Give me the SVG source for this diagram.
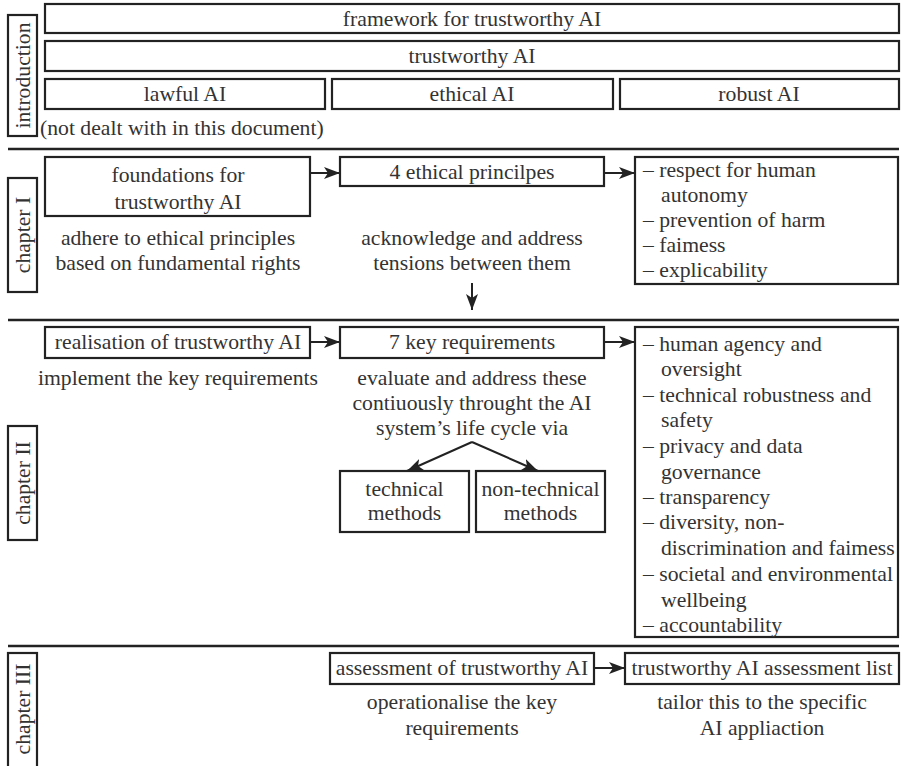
<svg xmlns="http://www.w3.org/2000/svg" width="902" height="766" viewBox="0 0 902 766">
  <style>
    .box { fill: #ffffff; stroke: #222222; stroke-width: 2.2; }
    .sep { stroke: #222222; stroke-width: 2.6; }
    .edge { stroke: #222222; stroke-width: 2; fill: none; }
    text { font-family: "Liberation Serif", "DejaVu Serif", serif; font-size: 21.7px; fill: #333333; }
    .c { text-anchor: middle; }
  </style>
  <defs>
    <marker id="arrow" viewBox="0 0 16 12" refX="16" refY="6" markerWidth="16" markerHeight="12" markerUnits="userSpaceOnUse" orient="auto">
      <path d="M0,0 L16,6 L0,12 L4,6 Z" fill="#222222"/>
    </marker>
  </defs>

  <rect width="902" height="766" fill="#ffffff"/>

  <!-- section separators -->
  <g id="separators">
    <line class="sep" x1="8" y1="149" x2="899" y2="149"/>
    <line class="sep" x1="8" y1="320" x2="899" y2="320"/>
    <line class="sep" x1="8" y1="646" x2="899" y2="646"/>
  </g>

  <!-- chapter labels -->
  <g id="label-introduction">
    <rect class="box" x="8" y="15" width="29" height="121"/>
    <text class="c" transform="translate(29.5,75.5) rotate(-90)">introduction</text>
  </g>
  <g id="label-chapter1">
    <rect class="box" x="8" y="178" width="29" height="114"/>
    <text class="c" transform="translate(29.5,235) rotate(-90)">chapter I</text>
  </g>
  <g id="label-chapter2">
    <rect class="box" x="8" y="426" width="29" height="114"/>
    <text class="c" transform="translate(29.5,483) rotate(-90)">chapter II</text>
  </g>
  <g id="label-chapter3">
    <rect class="box" x="8" y="653" width="29" height="120"/>
    <text class="c" transform="translate(29.5,709) rotate(-90)">chapter III</text>
  </g>

  <!-- introduction -->
  <g id="framework">
    <rect class="box" x="45" y="4" width="854" height="29"/>
    <text class="c" x="472" y="26">framework for trustworthy AI</text>
  </g>
  <g id="trustworthy">
    <rect class="box" x="45" y="41" width="854" height="30"/>
    <text class="c" x="472" y="63">trustworthy AI</text>
  </g>
  <g id="lawful">
    <rect class="box" x="45" y="79" width="280" height="30"/>
    <text class="c" x="185" y="101">lawful AI</text>
    <text x="40" y="135">(not dealt with in this document)</text>
  </g>
  <g id="ethical">
    <rect class="box" x="332" y="79" width="281" height="30"/>
    <text class="c" x="472" y="101">ethical AI</text>
  </g>
  <g id="robust">
    <rect class="box" x="620" y="79" width="279" height="30"/>
    <text class="c" x="759" y="101">robust AI</text>
  </g>

  <!-- chapter I -->
  <g id="foundations">
    <rect class="box" x="45" y="157" width="265" height="59"/>
    <text class="c" x="178" y="182">foundations for</text>
    <text class="c" x="178" y="209">trustworthy AI</text>
    <text class="c" x="178" y="245">adhere to ethical principles</text>
    <text class="c" x="178" y="270">based on fundamental rights</text>
  </g>
  <g id="principles">
    <rect class="box" x="340" y="157" width="264" height="29"/>
    <text class="c" x="472" y="179">4 ethical princilpes</text>
    <text class="c" x="472" y="245">acknowledge and address</text>
    <text class="c" x="472" y="270">tensions between them</text>
  </g>
  <g id="principles-list">
    <rect class="box" x="635" y="157" width="263" height="127"/>
    <text x="643" y="177">– respect for human</text>
    <text x="661" y="202">autonomy</text>
    <text x="643" y="227">– prevention of harm</text>
    <text x="643" y="252">– faimess</text>
    <text x="643" y="277">– explicability</text>
  </g>

  <!-- chapter II -->
  <g id="realisation">
    <rect class="box" x="45" y="327" width="265" height="31"/>
    <text class="c" x="178" y="349">realisation of trustworthy AI</text>
    <text class="c" x="178" y="385">implement the key requirements</text>
  </g>
  <g id="requirements">
    <rect class="box" x="340" y="327" width="264" height="31"/>
    <text class="c" x="472" y="349">7 key requirements</text>
    <text class="c" x="472" y="385">evaluate and address these</text>
    <text class="c" x="472" y="410">contiuously throught the AI</text>
    <text class="c" x="472" y="435">system’s life cycle via</text>
  </g>
  <g id="technical">
    <rect class="box" x="340" y="471" width="129" height="61"/>
    <text class="c" x="404.5" y="496">technical</text>
    <text class="c" x="404.5" y="520">methods</text>
  </g>
  <g id="non-technical">
    <rect class="box" x="476" y="471" width="129" height="61"/>
    <text class="c" x="540.5" y="496">non-technical</text>
    <text class="c" x="540.5" y="520">methods</text>
  </g>
  <g id="requirements-list">
    <rect class="box" x="635" y="327" width="263" height="310"/>
    <text x="643" y="351">– human agency and</text>
    <text x="661" y="376">oversight</text>
    <text x="643" y="402">– technical robustness and</text>
    <text x="661" y="427">safety</text>
    <text x="643" y="453">– privacy and data</text>
    <text x="661" y="479">governance</text>
    <text x="643" y="504">– transparency</text>
    <text x="643" y="529">– diversity, non-</text>
    <text x="661" y="555">discrimination and faimess</text>
    <text x="643" y="581">– societal and environmental</text>
    <text x="661" y="607">wellbeing</text>
    <text x="643" y="632">– accountability</text>
  </g>

  <!-- chapter III -->
  <g id="assessment">
    <rect class="box" x="330" y="653" width="264" height="31"/>
    <text class="c" x="462" y="675">assessment of trustworthy AI</text>
    <text class="c" x="462" y="709">operationalise the key</text>
    <text class="c" x="462" y="735">requirements</text>
  </g>
  <g id="assessment-list">
    <rect class="box" x="625" y="653" width="274" height="31"/>
    <text class="c" x="762" y="675">trustworthy AI assessment list</text>
    <text class="c" x="762" y="709">tailor this to the specific</text>
    <text class="c" x="762" y="735">AI appliaction</text>
  </g>

  <!-- connectors -->
  <g id="connectors">
    <line class="edge" x1="310" y1="173" x2="340" y2="173" marker-end="url(#arrow)"/>
    <line class="edge" x1="604" y1="173" x2="635" y2="173" marker-end="url(#arrow)"/>
    <line class="edge" x1="472" y1="283" x2="472" y2="310" marker-end="url(#arrow)"/>
    <line class="edge" x1="310" y1="342" x2="340" y2="342" marker-end="url(#arrow)"/>
    <line class="edge" x1="604" y1="342" x2="635" y2="342" marker-end="url(#arrow)"/>
    <line class="edge" x1="472" y1="442" x2="407" y2="471" marker-end="url(#arrow)"/>
    <line class="edge" x1="472" y1="442" x2="538" y2="471" marker-end="url(#arrow)"/>
    <line class="edge" x1="594" y1="668" x2="625" y2="668" marker-end="url(#arrow)"/>
  </g>
</svg>
